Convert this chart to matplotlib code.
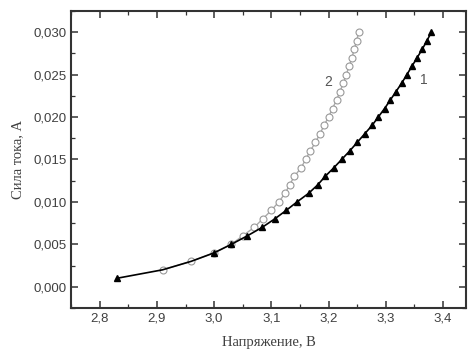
import matplotlib
matplotlib.use("Agg")
import matplotlib.pyplot as plt
from matplotlib.ticker import MultipleLocator, FixedLocator, FixedFormatter

# Series 1 (filled triangles)
current_1 = [0.001, 0.002, 0.003, 0.004, 0.005, 0.006, 0.007, 0.008, 0.009, 0.010,
             0.011, 0.012, 0.013, 0.014, 0.015, 0.016, 0.017, 0.018, 0.019, 0.020,
             0.021, 0.022, 0.023, 0.024, 0.025, 0.026, 0.027, 0.028, 0.029, 0.030]
voltage_1 = [2.83, 2.91, 2.96, 3.00, 3.03, 3.058, 3.084, 3.106, 3.126, 3.145,
             3.165, 3.181, 3.194, 3.209, 3.223, 3.237, 3.250, 3.263, 3.276, 3.287,
             3.298, 3.308, 3.318, 3.328, 3.337, 3.346, 3.355, 3.364, 3.372, 3.380]

# Series 2 (open circles)
current_2 = [0.002, 0.003, 0.004, 0.005, 0.006, 0.007, 0.008, 0.009, 0.010,
             0.011, 0.012, 0.013, 0.014, 0.015, 0.016, 0.017, 0.018, 0.019, 0.020,
             0.021, 0.022, 0.023, 0.024, 0.025, 0.026, 0.027, 0.028, 0.029, 0.030]
voltage_2 = [2.91, 2.96, 3.00, 3.03, 3.05, 3.07, 3.085, 3.10, 3.113,
             3.124, 3.132, 3.14, 3.152, 3.16, 3.168, 3.177, 3.185, 3.192, 3.20,
             3.207, 3.214, 3.22, 3.226, 3.231, 3.236, 3.241, 3.245, 3.249, 3.253]

x_ticks = [2.8, 2.9, 3.0, 3.1, 3.2, 3.3, 3.4]
x_labels = ['2,8', '2,9', '3,0', '3,1', '3,2', '3,3', '3,4']
y_ticks = [0.000, 0.005, 0.010, 0.015, 0.020, 0.025, 0.030]
y_labels = ['0,000', '0,005', '0,010', '0,015', '0,020', '0,025', '0,030']

text_col = '#404040'

fig = plt.figure(figsize=(4.71, 3.51), dpi=100)
ax = fig.add_axes([0.151, 0.1225, 0.838, 0.8465])

# triangles hidden where the two curves share points (2,9 and 2,96 V)
tri_marks = [i for i in range(len(voltage_1)) if i not in (1, 2)]
ax.plot(voltage_2, current_2, color='#aaaaaa', lw=1.0, marker='o', ms=5,
        mfc='white', mec='#999999', mew=0.8, zorder=2)
ax.plot(voltage_1, current_1, color='black', lw=1.2, marker='^', ms=5,
        mfc='black', mec='black', markevery=tri_marks, zorder=3)

ax.text(3.366, 0.0243, '1', fontsize=10, color='#555555', family='Liberation Sans',
        ha='center', va='center')
ax.text(3.2, 0.0241, '2', fontsize=10, color='#555555', family='Liberation Sans',
        ha='center', va='center')

ax.set_xlim(2.75, 3.44)
ax.set_ylim(-0.0025, 0.0325)

ax.xaxis.set_major_locator(FixedLocator(x_ticks))
ax.xaxis.set_major_formatter(FixedFormatter(x_labels))
ax.yaxis.set_major_locator(FixedLocator(y_ticks))
ax.yaxis.set_major_formatter(FixedFormatter(y_labels))
ax.xaxis.set_minor_locator(MultipleLocator(0.05))
ax.yaxis.set_minor_locator(MultipleLocator(0.0025))

ax.tick_params(which='both', direction='in', top=True, right=True,
               labelsize=9.5, labelcolor=text_col, color='#333333')
ax.tick_params(which='major', length=5, width=1.1)
ax.tick_params(which='minor', length=3, width=0.9)
for lab in ax.get_xticklabels() + ax.get_yticklabels():
    lab.set_family('Liberation Sans')
for sp in ax.spines.values():
    sp.set_linewidth(1.5)
    sp.set_color('#333333')

ax.set_xlabel('Напряжение, В', family='Liberation Serif', fontsize=10.5,
              color=text_col, labelpad=8)
ax.set_ylabel('Сила тока, А', family='Liberation Serif', fontsize=10.5,
              color=text_col, labelpad=6)

fig.savefig('out.png', dpi=100)
